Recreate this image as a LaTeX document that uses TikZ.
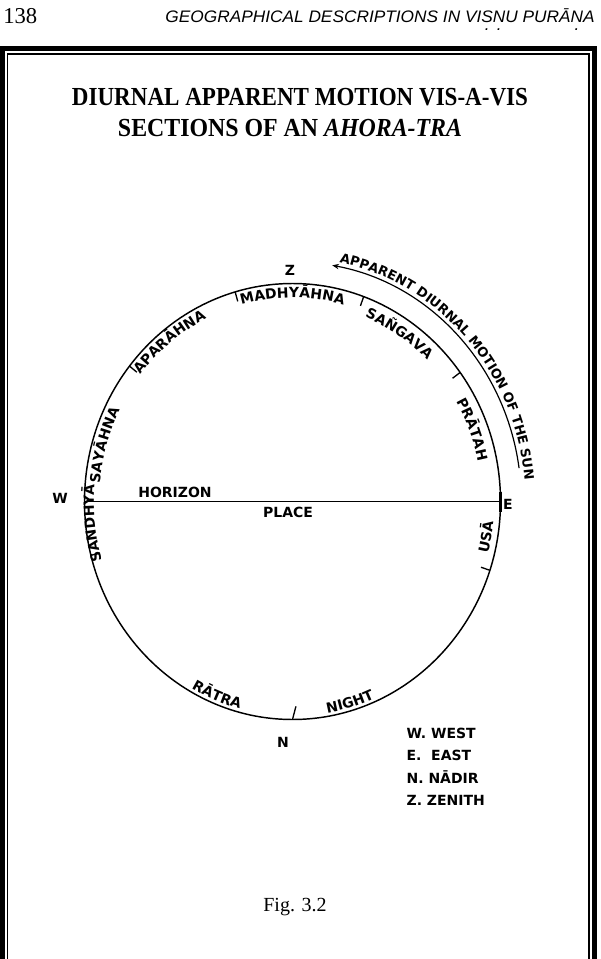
\documentclass[tikz,border=0pt]{standalone}
\usepackage{fontspec}
\setmainfont{Liberation Serif}
\newfontfamily\hdfont{Liberation Sans}
\newfontfamily\labfont{DejaVu Sans}
\usetikzlibrary{calc,decorations.text,arrows.meta}
\newcommand\lf{\labfont\bfseries\fontsize{10.5pt}{12pt}\selectfont}
\newcommand\lfs{\labfont\bfseries\fontsize{9.8pt}{12pt}\selectfont}
\newcommand\ud[1]{\ooalign{#1\cr\hidewidth\raisebox{-0.45em}{.}\hidewidth\cr}}
% clockwise text (tops outward)
\newcommand\cwtext[3]{\path[decorate,decoration={text along path,text align=center,text={|\lf|#3}}]
  ($(C)+({#1+50}:{208*#2} and {218*#2})$) arc[start angle={#1+50},end angle={#1-50},x radius={208*#2},y radius={218*#2}];}
% counter-clockwise text (tops inward)
\newcommand\ccwtext[3]{\path[decorate,decoration={text along path,text align=center,text={|\lf|#3}}]
  ($(C)+({#1-50}:{208*#2} and {218*#2})$) arc[start angle={#1-50},end angle={#1+50},x radius={208*#2},y radius={218*#2}];}
\begin{document}
\begin{tikzpicture}[x=0.75pt,y=0.75pt,
  ring/.style={line width=1.1pt},
  tick/.style={line width=1pt},
  lab/.style={font=\lf,inner sep=1pt},
  frame/.style={line width=3.75pt},
  thinframe/.style={line width=1.1pt}]
\useasboundingbox (0,0) rectangle (600,-959);
% header
\node[anchor=base west,inner sep=0] (pg) at (3,-24) {\fontsize{17pt}{20pt}\selectfont 138};
\node[anchor=base east,inner sep=0] (hd) at (595,-23) {\resizebox{322pt}{\height}{\hdfont\itshape\fontsize{12.5pt}{14pt}\selectfont GEOGRAPHICAL DESCRIPTIONS IN VI\ud{S}\ud{N}U PURĀ\ud{N}A}};
% frame
\draw[frame] (2.5,-1000) -- (2.5,-48.5) -- (594.5,-48.5) -- (594.5,-1000);
\draw[thinframe] (7.5,-1000) -- (7.5,-54) -- (589,-54) -- (589,-1000);
% title
\node[anchor=base,inner sep=0] (t1) at (300,-106) {\resizebox{342pt}{\height}{\bfseries\fontsize{19.5pt}{22pt}\selectfont DIURNAL APPARENT MOTION VIS-A-VIS}};
\node[anchor=base,inner sep=0] (t2) at (290,-137) {\resizebox{258pt}{\height}{\bfseries\fontsize{19.5pt}{22pt}\selectfont SECTIONS OF AN \textit{AHORA-TRA}}};
% circle
\coordinate (C) at (292.5,-501.5);
\draw[ring] (C) ellipse[x radius=208,y radius=218];
\coordinate (W) at ($(C)+(-208,0)$);
\coordinate (E) at ($(C)+(208,0)$);
\draw[ring] (W) -- (E);
\draw[line width=1.6pt] ($(E)+(0,10)$) -- ($(E)+(0,-10)$);
% ticks
\foreach \a in {106,70,36.3,-18.4,194.3,141.6}
  \draw[tick] ($(C)+(\a:208 and 218)$) -- ($(C)+(\a:{208*0.955} and {218*0.955})$);
\draw[tick] ($(C)+(-90:208 and 218)$) -- ($(C)+(-89:{208*0.94} and {218*0.94})$);
% point labels
\node[lab] (Zl) at (290,-270) {Z};
\node[lab] (Nl) at (283,-742) {N};
\node[lab] (Wl) at (60,-498) {W};
\node[lab] (El) at (508,-504) {E};
\node[lab] (hor) at (175,-492) {HORIZON};
\node[lab] (pl) at (288,-512) {PLACE};
% arc labels
\cwtext{90}{0.935}{MADHYĀHNA}
\cwtext{57}{0.915}{SAÑGAVA}
\cwtext{21.4}{0.91}{PRĀTAH}
\cwtext{128.2}{0.935}{APARĀHNA}
\cwtext{163.6}{0.93}{SAYĀHNA}
\cwtext{186}{0.955}{SANDHYĀ}
\ccwtext{-10.2}{0.97}{USĀ}
\ccwtext{248.3}{0.985}{RĀTRA}
\ccwtext{-73.7}{0.985}{NIGHT}
% apparent motion arrow
\draw[line width=0.9pt,-{Stealth[length=5pt,width=4pt]}] ($(C)+(8:228.8 and 239.8)$) arc[start angle=8,end angle=80,x radius=228.8,y radius=239.8];
\path[decorate,decoration={text along path,text align=center,text={|\lfs|APPARENT DIURNAL MOTION OF THE SUN}}]
  ($(C)+(92:{208*1.12} and {218*1.12})$) arc[start angle=92,end angle=-8,x radius={208*1.12},y radius={218*1.12}];
% legend
\node[lab,anchor=base west] (lw) at (405,-738) {W. WEST};
\node[lab,anchor=base west] (le) at (405,-760) {E.\ \ EAST};
\node[lab,anchor=base west] (ln) at (405,-783) {N. NĀDIR};
\node[lab,anchor=base west] (lz) at (405,-805) {Z. ZENITH};
% caption
\node[anchor=base] (fig) at (295,-911) {\fontsize{15pt}{18pt}\selectfont Fig. 3.2};
\end{tikzpicture}
\end{document}
